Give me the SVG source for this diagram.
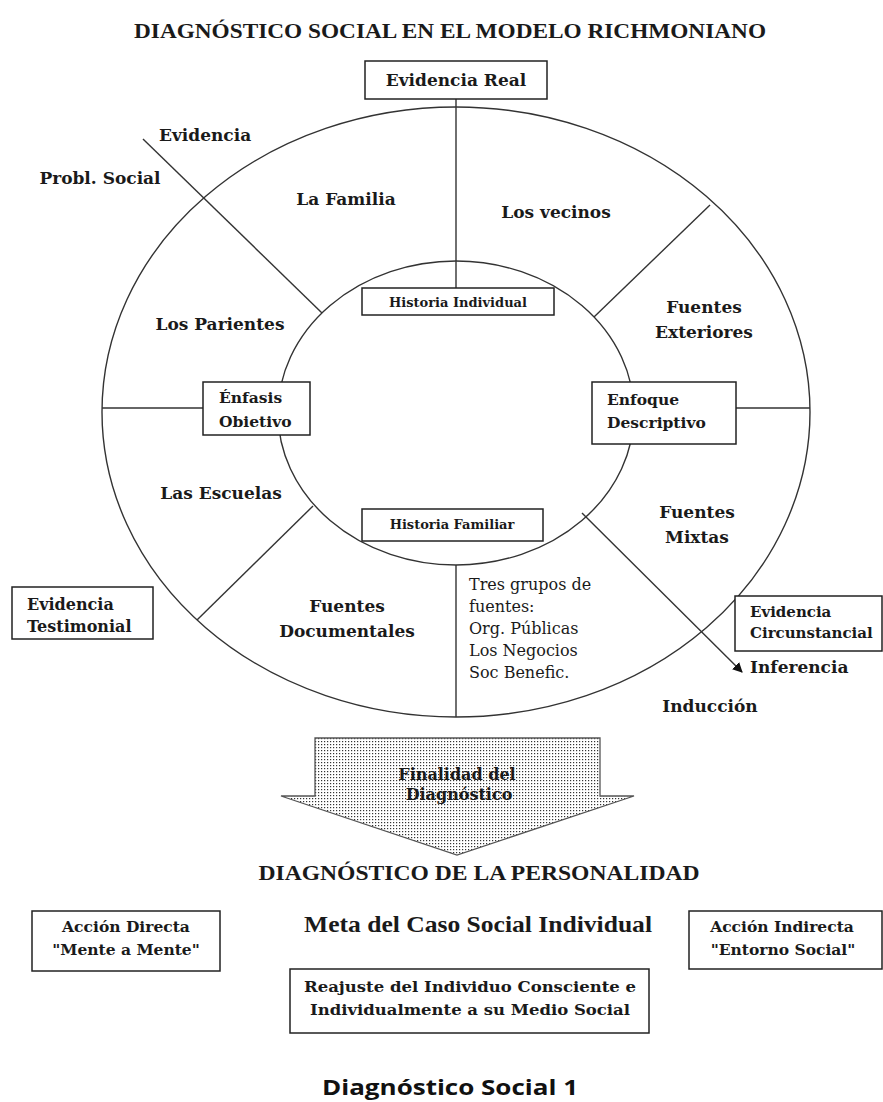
<svg xmlns="http://www.w3.org/2000/svg" width="883" height="1102" viewBox="0 0 883 1102">
<defs>
<style>
.b{font-family:"DejaVu Serif","Liberation Serif",serif;font-weight:bold;fill:#1a1a1a}
.r{font-family:"DejaVu Serif","Liberation Serif",serif;font-weight:normal;fill:#1a1a1a}
.t{font-family:"Liberation Serif","DejaVu Serif",serif;font-weight:bold;fill:#1a1a1a}
.c{text-anchor:middle}
.box{fill:#fff;stroke:#222;stroke-width:1.5}
.ln{stroke:#333;stroke-width:1.4;fill:none}
</style>
<pattern id="dots" width="3" height="3" patternUnits="userSpaceOnUse">
<rect width="3" height="3" fill="#fff"/>
<rect width="1.2" height="1.2" fill="#333"/>
</pattern>
<marker id="ah" markerWidth="10" markerHeight="10" refX="9" refY="5" orient="auto" markerUnits="userSpaceOnUse">
<path d="M0,0 L10,5 L0,10 Z" fill="#111"/>
</marker>
</defs>
<rect width="883" height="1102" fill="#fff"/>

<text class="t c" x="450" y="38" font-size="21" textLength="632" lengthAdjust="spacingAndGlyphs">DIAGNÓSTICO SOCIAL EN EL MODELO RICHMONIANO</text>

<g id="rings">
<ellipse cx="456" cy="412" rx="354" ry="305" class="ln"/>
<ellipse cx="456" cy="413" rx="178" ry="152" class="ln"/>
</g>

<g id="connectors">
<line class="ln" x1="456" y1="99" x2="456" y2="288"/>
<line class="ln" x1="456" y1="565" x2="456" y2="717"/>
<line class="ln" x1="143" y1="139" x2="322" y2="313"/>
<line class="ln" x1="710" y1="205" x2="594" y2="317"/>
<line class="ln" x1="313" y1="506" x2="197" y2="620"/>
<line class="ln" x1="102" y1="408" x2="203" y2="408"/>
<line class="ln" x1="736" y1="408" x2="810" y2="408"/>
<line class="ln" x1="582" y1="513" x2="742" y2="672" marker-end="url(#ah)"/>
</g>

<g id="evidencia-real">
<rect class="box" x="365" y="61" width="182" height="38"/>
<text class="b c" x="456" y="86" font-size="17">Evidencia Real</text>
</g>

<g id="evidencia-label"><text class="b" x="159" y="141" font-size="17">Evidencia</text></g>
<g id="probl-social"><text class="b c" x="100" y="184" font-size="17">Probl. Social</text></g>
<g id="la-familia"><text class="b c" x="346" y="205" font-size="17">La Familia</text></g>
<g id="los-vecinos"><text class="b c" x="556" y="218" font-size="17">Los vecinos</text></g>
<g id="los-parientes"><text class="b c" x="220" y="330" font-size="17">Los Parientes</text></g>
<g id="fuentes-exteriores"><text class="b c" x="704" y="313" font-size="17">Fuentes</text><text class="b c" x="704" y="338" font-size="17">Exteriores</text></g>

<g id="historia-individual">
<rect class="box" x="362" y="288" width="192" height="27"/>
<text class="b c" x="458" y="307" font-size="13">Historia Individual</text>
</g>

<g id="enfasis-objetivo">
<rect class="box" x="203" y="382" width="107" height="53"/>
<text class="b" x="219" y="403" font-size="15.5">Énfasis</text>
<text class="b" x="219" y="427" font-size="15.5">Obietivo</text>
</g>

<g id="enfoque-descriptivo">
<rect class="box" x="592" y="382" width="144" height="62"/>
<text class="b" x="607" y="405" font-size="15.5">Enfoque</text>
<text class="b" x="607" y="428" font-size="15.5">Descriptivo</text>
</g>

<g id="las-escuelas"><text class="b c" x="221" y="499" font-size="17">Las Escuelas</text></g>

<g id="historia-familiar">
<rect class="box" x="362" y="509" width="181" height="32"/>
<text class="b c" x="452" y="529" font-size="13">Historia Familiar</text>
</g>

<g id="fuentes-mixtas"><text class="b c" x="697" y="518" font-size="17">Fuentes</text><text class="b c" x="697" y="543" font-size="17">Mixtas</text></g>
<g id="fuentes-documentales"><text class="b c" x="347" y="612" font-size="17">Fuentes</text><text class="b c" x="347" y="637" font-size="17">Documentales</text></g>

<g id="tres-grupos">
<text class="r" x="469" y="590" font-size="16">Tres grupos de</text>
<text class="r" x="469" y="612" font-size="16">fuentes:</text>
<text class="r" x="469" y="634" font-size="16">Org. Públicas</text>
<text class="r" x="469" y="656" font-size="16">Los Negocios</text>
<text class="r" x="469" y="678" font-size="16">Soc Benefic.</text>
</g>

<g id="evidencia-testimonial">
<rect class="box" x="12" y="587" width="141" height="52"/>
<text class="b" x="27" y="610" font-size="16">Evidencia</text>
<text class="b" x="27" y="632" font-size="16">Testimonial</text>
</g>

<g id="evidencia-circunstancial">
<rect class="box" x="735" y="596" width="147" height="55"/>
<text class="b" x="750" y="617" font-size="15">Evidencia</text>
<text class="b" x="750" y="638" font-size="15">Circunstancial</text>
</g>

<g id="inferencia"><text class="b" x="750" y="673" font-size="17">Inferencia</text></g>
<g id="induccion"><text class="b c" x="710" y="712" font-size="17">Inducción</text></g>

<g id="finalidad">
<polygon points="315,738 600,738 600,796 634,796 457,855 281,796 315,796" fill="url(#dots)" stroke="#555" stroke-width="1.3"/>
<text class="b c" x="457" y="780" font-size="16">Finalidad del</text>
<text class="b c" x="459" y="800" font-size="16">Diagnóstico</text>
</g>

<g id="diag-personalidad"><text class="t c" x="479" y="880" font-size="22" textLength="441" lengthAdjust="spacingAndGlyphs">DIAGNÓSTICO DE LA PERSONALIDAD</text></g>

<g id="accion-directa">
<rect class="box" x="32" y="911" width="188" height="60"/>
<text class="b c" x="126" y="932" font-size="15.5">Acción Directa</text>
<text class="b c" x="126" y="955" font-size="15.5">"Mente a Mente"</text>
</g>

<g id="meta"><text class="t c" x="478" y="932" font-size="24" textLength="348" lengthAdjust="spacingAndGlyphs">Meta del Caso Social Individual</text></g>

<g id="accion-indirecta">
<rect class="box" x="689" y="911" width="193" height="58"/>
<text class="b c" x="782" y="932" font-size="15.5">Acción Indirecta</text>
<text class="b c" x="783" y="955" font-size="15.5">"Entorno Social"</text>
</g>

<g id="reajuste">
<rect class="box" x="290" y="969" width="359" height="64"/>
<text class="b c" x="470" y="992" font-size="15.5" textLength="332" lengthAdjust="spacingAndGlyphs">Reajuste del Individuo Consciente e</text>
<text class="b c" x="470" y="1015" font-size="15.5" textLength="320" lengthAdjust="spacingAndGlyphs">Individualmente a su Medio Social</text>
</g>

<g id="caption"><text x="450" y="1095" text-anchor="middle" font-family="'Open Sans','Noto Sans',sans-serif" font-weight="700" font-size="22" fill="#111" textLength="256" lengthAdjust="spacingAndGlyphs">Diagnóstico Social 1</text></g>
</svg>
